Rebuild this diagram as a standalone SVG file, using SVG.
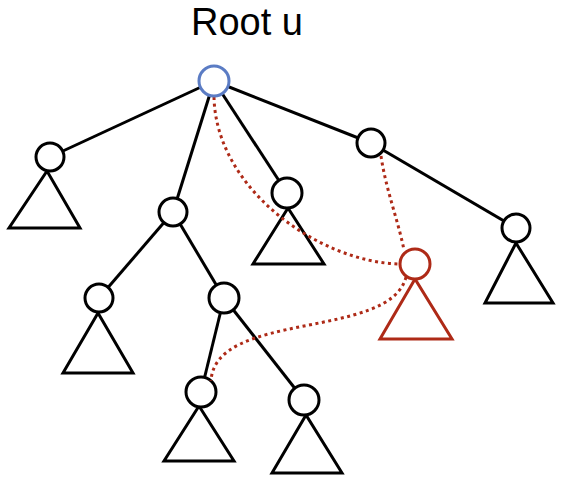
<svg xmlns="http://www.w3.org/2000/svg" width="567" height="489" viewBox="0 0 567 489">
<style>
.e{stroke:#000;stroke-width:3;fill:none}
.n{fill:#fff;stroke:#000;stroke-width:3}
.t{fill:#fff;stroke:#000;stroke-width:3;stroke-linejoin:miter}
.r{stroke:#ae2a17}
.d{stroke:#ae2a17;stroke-width:3;fill:none;stroke-dasharray:3 3.5}
</style>
<rect width="567" height="489" fill="#fff"/>
<text x="247" y="35" font-family="Liberation Sans, Arial, sans-serif" font-size="38" text-anchor="middle">Root u</text>
<g id="connectors">
<line class="e" x1="214" y1="81" x2="50" y2="157"/>
<line class="e" x1="214" y1="81" x2="173" y2="212"/>
<line class="e" x1="214" y1="81" x2="287" y2="193"/>
<line class="e" x1="214" y1="81" x2="371" y2="143"/>
<line class="e" x1="371" y1="143" x2="516" y2="228"/>
<line class="e" x1="173" y1="212" x2="99" y2="298"/>
<line class="e" x1="173" y1="212" x2="224" y2="298"/>
<line class="e" x1="224" y1="298" x2="201" y2="392"/>
<line class="e" x1="224" y1="298" x2="304" y2="400"/>
</g>
<g id="nodeA"><polygon class="t" points="47,171 9,228 80,228"/><circle class="n" cx="50" cy="157" r="14"/></g>
<g id="nodeB"><circle class="n" cx="173" cy="212" r="14"/></g>
<g id="nodeC"><polygon class="t" points="98,313 63,373 133,373"/><circle class="n" cx="99" cy="298" r="14"/></g>
<g id="nodeD"><circle class="n" cx="224" cy="298" r="15"/></g>
<g id="nodeE"><polygon class="t" points="199,406 164,461 234,461"/><circle class="n" cx="201" cy="392" r="15"/></g>
<g id="nodeF"><polygon class="t" points="306,415 272,473 342,473"/><circle class="n" cx="304" cy="400" r="15"/></g>
<g id="nodeG"><polygon class="t" points="288,208 253,264 324,264"/><circle class="n" cx="287" cy="193" r="15"/></g>
<g id="nodeH"><circle class="n" cx="371" cy="143" r="14"/></g>
<g id="nodeJ"><polygon class="t" points="516,243 485,303 553,303"/><circle class="n" cx="516" cy="228" r="14"/></g>
<g id="nodeI"><polygon class="t r" points="415,279 380,339 452,339"/><circle class="n r" cx="415" cy="264" r="15"/></g>
<g id="dotted">
<path class="d" d="M214,97 C216,190 320,262 399,264"/>
<path class="d" d="M381,156 C386,190 398,220 404,250"/>
<path class="d" d="M406,277 C390,340 215,310 211,381"/>
</g>
<g id="root"><circle class="n" cx="214" cy="81" r="15" stroke="#5b7cc4" style="stroke:#5b7cc4"/></g>
</svg>
